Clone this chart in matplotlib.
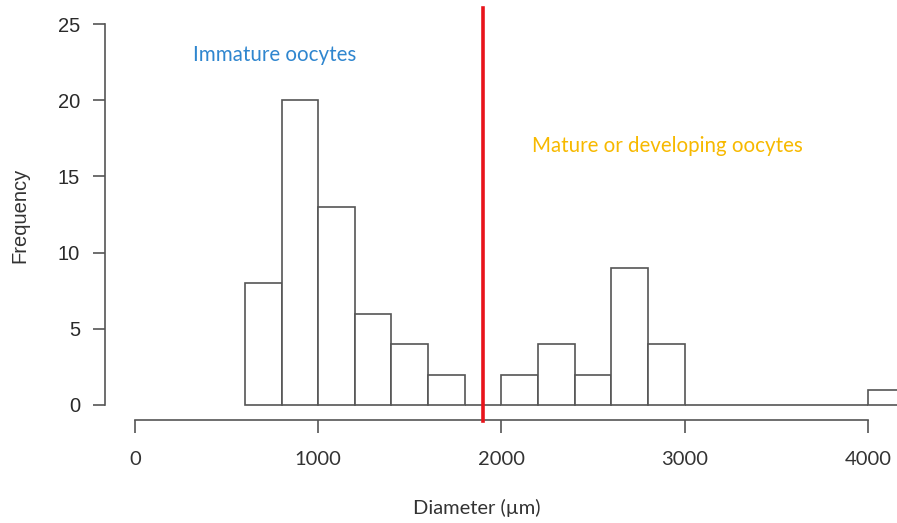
import numpy as np
import matplotlib.pyplot as plt

# histogram of oocyte diameters (200 um bins)
bin_edges = [600, 800, 1000, 1200, 1400, 1600, 1800, 2000, 2200, 2400, 2600,
             2800, 3000, 3200, 3400, 3600, 3800, 4000, 4200]
counts = [8, 20, 13, 6, 4, 2, 0, 2, 4, 2, 9, 4, 0, 0, 0, 0, 0, 1]
threshold = 1900
x_ticks = [0, 1000, 2000, 3000, 4000]
y_ticks = [0, 5, 10, 15, 20, 25]

fig = plt.figure(figsize=(8.97, 5.23), dpi=100)
ax = fig.add_axes([0, 0, 1, 1])
ax.patch.set_alpha(0)

# map data onto the picture: x0 at 135px, 183.2px per 1000; y0 at 405px, 15.24px per unit
px_x = 0.1832
px_y = 15.24
ax.set_xlim(-135 / px_x, (897 - 135) / px_x)
ax.set_ylim(-(523 - 405) / px_y, 405 / px_y)

axis_col = '#555555'
edges = np.array(bin_edges)
ax.bar(edges[:-1], counts, width=np.diff(edges), align='edge',
       facecolor='white', edgecolor=axis_col, linewidth=1.2, zorder=2)

ax.axvline(threshold, ymin=(523 - 421) / 523, ymax=(523 - 8) / 523,
           color='#e8141b', linewidth=2.6, zorder=3)

for s in ['top', 'right']:
    ax.spines[s].set_visible(False)
ax.spines['left'].set_position(('data', -30 / px_x))
ax.spines['left'].set_bounds(0, 25)
ax.spines['bottom'].set_position(('data', -15 / px_y))
ax.spines['bottom'].set_bounds(0, 4000)
for s in ['left', 'bottom']:
    ax.spines[s].set_color(axis_col)
    ax.spines[s].set_linewidth(1.2)

ax.set_yticks(y_ticks)
ax.set_yticklabels([str(v) for v in y_ticks], fontsize=14.5,
                   family='Liberation Sans', color='#2a2a2a')
ax.tick_params(axis='y', direction='out', length=9, width=1.2,
               color=axis_col, pad=9)
ax.set_xticks(x_ticks)
ax.set_xticklabels([str(v) for v in x_ticks], fontsize=14.5,
                   family='Lato', color='#333333')
ax.tick_params(axis='x', direction='out', length=9, width=1.2,
               color=axis_col, pad=13)

fig.text(20 / 897, 1 - 215 / 523, 'Frequency', rotation=90, ha='center',
         va='center', fontsize=14.5, family='Liberation Sans', color='#333333')
fig.text(477 / 897, 1 - 508 / 523, 'Diameter (\u00b5m)', ha='center',
         va='center', fontsize=14.5, family='Lato', color='#333333')

fig.text(193 / 897, 1 - 55 / 523, 'Immature oocytes', ha='left',
         va='center', fontsize=14.8, family='Lato', color='#2f86cf')
fig.text(532 / 897, 1 - 146 / 523, 'Mature or developing oocytes', ha='left',
         va='center', fontsize=14.8, family='Lato', color='#f7b900')

fig.savefig('out.png', dpi=100)
